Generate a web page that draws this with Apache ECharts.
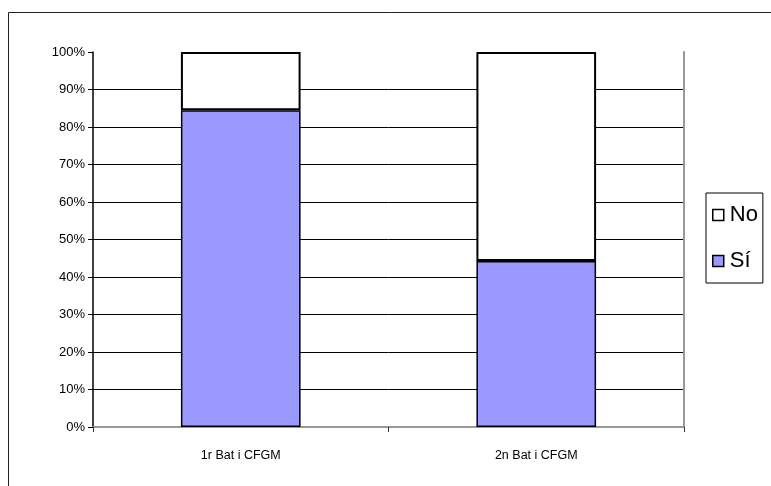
<!DOCTYPE html>
<html>
<head>
<meta charset="utf-8">
<script src="https://cdn.jsdelivr.net/npm/echarts@6/dist/echarts.min.js"></script>
<style>
  html, body { margin: 0; padding: 0; background: #fff; }
  #chart { width: 771px; height: 486px; }
</style>
</head>
<body>
<div id="chart"></div>
<script>
// categories and values (percent of each group)
let categories = ['1r Bat i CFGM', '2n Bat i CFGM'];
let siValues = [84.5, 44.3];
let noValues = [15.5, 55.7];
let yTicks = [0, 10, 20, 30, 40, 50, 60, 70, 80, 90, 100];

let myChart = echarts.init(document.getElementById('chart'));

let font = '"Liberation Sans", Arial, sans-serif';

let option = {
    backgroundColor: '#fff',
    animation: false,
    graphic: [{
        // outer chart frame (only top and left edges visible in the picture)
        type: 'rect',
        silent: true,
        shape: { x: 8.5, y: 12.5, width: 900, height: 600 },
        style: { fill: 'none', stroke: '#222', lineWidth: 1 }
    }],
    grid: {
        left: 93, top: 52, right: 87, bottom: 59,
        containLabel: false
    },
    legend: {
        orient: 'vertical',
        left: 706, top: 193,
        data: ['No', 'Sí'],
        icon: 'rect',
        itemWidth: 11, itemHeight: 11,
        itemGap: 22,
        padding: [10, 5, 10, 6],
        borderColor: '#000', borderWidth: 1,
        itemStyle: { borderColor: '#000', borderWidth: 1.5 },
        textStyle: { fontFamily: font, fontSize: 22, lineHeight: 24, color: '#000', padding: [0, 0, 0, 1] }
    },
    xAxis: [{
        type: 'category',
        data: categories,
        boundaryGap: true,
        axisLine: { lineStyle: { color: '#333', width: 2 } },
        axisTick: { show: true, length: 5, lineStyle: { color: '#333' } },
        axisLabel: { margin: 22, fontFamily: font, fontSize: 12.5, color: '#000' }
    }, {
        type: 'category',
        data: categories,
        position: 'top',
        axisLine: { lineStyle: { color: '#999', width: 2 } },
        axisTick: { show: false },
        axisLabel: { show: false }
    }],
    yAxis: [{
        type: 'value',
        min: 0, max: 100, interval: 10,
        axisLine: { show: true, lineStyle: { color: '#000', width: 1.5 } },
        axisTick: { show: true, length: 5, lineStyle: { color: '#000' } },
        axisLabel: { margin: 8, fontFamily: font, fontSize: 13, color: '#000',
            formatter: v => v + '%' },
        splitLine: { show: true, showMaxLine: false, lineStyle: { color: '#000', width: 1 } }
    }, {
        type: 'value',
        position: 'right',
        min: 0, max: 100, interval: 10,
        axisLine: { show: true, lineStyle: { color: '#999', width: 2 } },
        axisTick: { show: false },
        axisLabel: { show: false },
        splitLine: { show: false }
    }],
    series: [{
        name: 'Sí',
        type: 'bar',
        stack: 'total',
        data: siValues,
        barWidth: '40.5%',
        itemStyle: { color: '#9999ff', borderColor: '#000', borderWidth: 1.5 }
    }, {
        name: 'No',
        type: 'bar',
        stack: 'total',
        data: noValues,
        barWidth: '40.5%',
        itemStyle: { color: '#fff', borderColor: '#000', borderWidth: 2 }
    }]
};

myChart.setOption(option);
</script>
</body>
</html>
